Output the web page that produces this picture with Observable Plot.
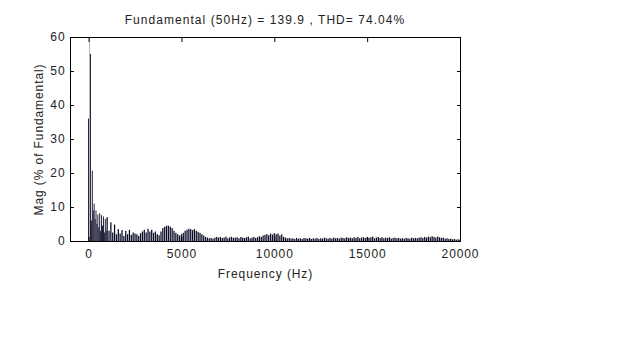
<!DOCTYPE html>
<html>
<head>
<meta charset="utf-8">
<script src="https://cdn.jsdelivr.net/npm/d3@7"></script>
<script src="https://cdn.jsdelivr.net/npm/@observablehq/plot@0.6"></script>
<style>
  html, body { margin: 0; padding: 0; background: #fff; }
  #wrap { width: 625px; height: 357px; position: relative; overflow: hidden; }
  #title { width: 530px; height: 28px; text-align: center; font: 12px "Liberation Sans", Arial, sans-serif; letter-spacing: 1.05px; color: #222; line-height: 14px; padding-top: 13px; box-sizing: border-box; }
</style>
</head>
<body>
<div id="wrap">
  <div id="title">Fundamental (50Hz) = 139.9 , THD= 74.04%</div>
  <div id="chart"></div>
</div>
<script>
const titleText = "Fundamental (50Hz) = 139.9 , THD= 74.04%";
const xLabel = "Frequency (Hz)";
const yLabel = "Mag (% of Fundamental)";
const xTicks = [0, 5000, 10000, 15000, 20000];
const yTicks = [0, 10, 20, 30, 40, 50, 60];

// Low-frequency components (Hz) and magnitudes (% of fundamental)
const lowFreq = [0, 50, 100, 150, 200, 250, 300, 350, 400, 450, 500, 550, 600, 650, 700, 750, 800, 850, 900, 950];
const lowMag  = [36, 100, 55, 6, 20.7, 9, 11, 6.5, 9, 5, 7.8, 4, 8.2, 3, 7.6, 4.5, 7.2, 2.5, 6.5, 3];

// Components from 1000 Hz to 20000 Hz, one every 100 Hz
const highStart = 1000, highStep = 100;
const highMag = [
  7, 3, 5.5, 2.5, 4.8, 2, 3.5, 2.2, 3.2, 1.5,
  3, 2, 3.3, 1.8, 2.5, 2.2, 2, 1.5, 2.3, 2.8,
  3.3, 2.5, 3.6, 2.8, 3.3, 2.4, 2.8, 2, 1.7, 2.8,
  3.8, 4.2, 4.5, 4.5, 4.2, 3.8, 3, 2.4, 2, 1.6,
  2, 2.4, 3, 3.3, 3.6, 3.5, 3.2, 3.5, 3, 2.7,
  2.4, 2, 1.6, 1.2, 1, 0.8, 0.9, 0.7, 1, 1.2,
  1, 1.2, 0.9, 1, 1.3, 0.8, 1.1, 1.2, 0.9, 1,
  1.1, 0.8, 1.2, 1, 0.9, 1.1, 1.3, 0.8, 1, 1.2,
  0.9, 1.1, 1.4, 1.2, 1.6, 1.8, 2, 1.7, 2.2, 1.9,
  2.3, 2, 2.2, 1.6, 1.9, 1.2, 1, 0.8, 0.9, 0.7,
  0.8, 0.6, 0.9, 0.7, 0.8, 0.6, 0.9, 0.8, 0.7, 0.9,
  0.6, 0.8, 0.7, 0.9, 0.6, 0.8, 0.7, 1, 0.8, 0.7,
  0.9, 0.7, 1, 0.8, 0.9, 0.7, 1, 0.9, 0.8, 1.1,
  0.9, 1, 0.8, 1.1, 0.9, 1.2, 0.8, 1, 1.1, 0.9,
  1.2, 0.9, 1.1, 1.3, 0.8, 1, 1.2, 0.9, 1.1, 0.8,
  1, 0.9, 1.1, 0.7, 0.9, 1, 0.8, 0.9, 0.7, 0.8,
  0.7, 0.9, 0.8, 0.7, 1, 0.8, 0.9, 0.8, 1, 1.1,
  0.9, 1.2, 1, 1.3, 1.1, 1.4, 1.2, 1, 1.3, 1.1,
  0.9, 1, 0.7, 0.8, 0.6, 0.7, 0.5, 0.6, 0.4, 0.5,
  0.4
];

const data = [
  ...lowFreq.map((f, i) => ({f, m: lowMag[i], w: f === 50 ? 8 : 24})),
  ...highMag.map((m, i) => ({f: highStart + i * highStep, m, w: 34}))
];

const font = "Liberation Sans, Arial, sans-serif";
const chart = Plot.plot({
  width: 625,
  height: 329,
  marginTop: 9,
  marginBottom: 116,
  marginLeft: 70,
  marginRight: 165,
  style: {fontFamily: font, fontSize: "12px", color: "#222", background: "#fff", letterSpacing: "0.9px"},
  x: {domain: [-1000, 20000]},
  y: {domain: [0, 60]},
  marks: [
    Plot.rectY(data, {x1: d => d.f - d.w, x2: d => d.f + d.w, y: "m", fill: "#0a0a26", clip: true}),
    Plot.frame({stroke: "#000", strokeWidth: 1}),
    Plot.axisX(xTicks, {anchor: "bottom", tickSize: -4, tickPadding: 12, tickFormat: d3.format("d"), label: xLabel, labelAnchor: "center", labelOffset: 36, labelArrow: "none", stroke: "#000"}),
    Plot.axisX(xTicks, {anchor: "top", tickSize: -4, tickFormat: () => "", label: null, stroke: "#000"}),
    Plot.axisY(yTicks, {anchor: "left", tickSize: -4, tickPadding: 9, tickFormat: d3.format("d"), label: yLabel, labelAnchor: "center", labelOffset: 36, labelArrow: "none", stroke: "#000"}),
    Plot.axisY(yTicks, {anchor: "right", tickSize: -4, tickFormat: () => "", label: null, stroke: "#000"})
  ]
});
document.getElementById("chart").appendChild(chart);
</script>
</body>
</html>
